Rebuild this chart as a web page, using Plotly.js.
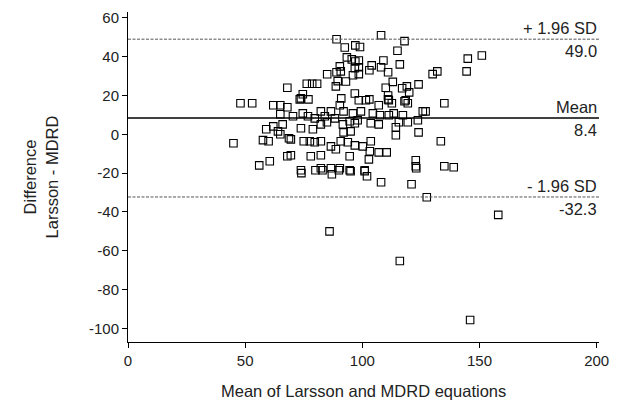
<!DOCTYPE html>
<html><head><meta charset="utf-8">
<script src="https://cdn.plot.ly/plotly-3.0.1.min.js"></script>
<style>html,body{margin:0;padding:0;background:#fff}#chart{width:626px;height:407px}</style>
</head><body><div id="chart"></div>
<script>
// Mean of the two equations (x) and difference (y)
const meanVals = [89,108,118,115,99,109,116,98.5,104,103,108,111,98.5,98.5,113,124,119,110,117,103,111,111,120,118.5,98.5,
151,145,144.5,130,132,135,127,133.5,135,139,127.5,158,
86,116,146,
101,102,108,121,123,74,80,83,87,90,95,
92.5,97,93.4,95.5,97,90.4,90.8,89,85,96.8,96,76.3,78.6,80.7,89.5,93,88.7,68,74.6,73.8,91,96.8,
48,53,62,65,68,65,59,62,66,64,65,68.7,45,57.6,60,60.5,56,68,
73.3,77,90.4,86.6,92,96,82.3,74.6,76.8,70.4,79.7,84,84.9,88.3,94.6,96.8,91.7,82.3,73.8,78.9,92,95,69.5,75,77.6,79.7,82.3,86.6,88.7,90.8,93.8,96.8,94.6,69.5,78,82.3,73.8,82.3,86.6,90.4,94.6,
101.5,107,111.3,112.6,118,119.4,99.4,104.5,107.5,111.3,113.4,117.3,125.8,98,103.6,107,115.6,119.4,123.7,114.3,114.3,124,103.6,100.2,103.2,107,110.4,102.8,122.8,122.8,101];
const diffVals = [49,51,48,43,45,38,36,38,35.5,33,34.5,32,34.5,31,27,25.7,24.7,24,23.7,18,20,18,21.6,17.5,17.5,
40.6,39,32.4,31,32.4,16,11.8,-3.6,-16.5,-17,-32.4,-41.5,
-50,-65.3,-95.7,
-19,-21.6,-24.7,-25.7,-17.5,-20,-18.5,-18.5,-20.6,-18.5,-19,
44.7,45.8,39.6,38.6,37.5,35,32.4,32,30.9,34,30.4,26,26,26,27.4,27.2,24.7,24,20.6,18.5,18.5,21,
16,16,15,15,13.9,10.3,2.6,4.1,5.1,1.5,0,-2,-4.6,-3,-3.6,-13.9,-16,-11.3,
18,18,15,11.8,11.8,10.8,11.8,10.8,9.3,9.3,8.2,9.3,6.2,8.2,6.7,5.7,5.1,5.1,3.1,2.6,1,1.5,-2.6,-3.6,-3.6,-4.1,-3.6,-6.2,-7.7,-3.6,-4.1,-5.7,-11.3,-10.8,-11.3,-10.8,-18.5,-17.5,-17.5,-17.5,-18.5,
17.5,15,17.5,16,17,16,11.8,10.8,9.8,9.8,10.8,9.8,11.8,7.2,5.7,5.1,6.2,6.2,7.2,3.6,-0.5,1,-3.6,-6.2,-8.7,-9.3,-9.3,-12.9,-13.4,-16.5,-18.5];

const meanDiff = 8.4, upperLoA = 49.0, lowerLoA = -32.3;
const yTicks = [60,40,20,0,-20,-40,-60,-80,-100];
const yTickText = ["60","40","20","0","-20","-40","-60","-80","-100"];
const xTicks = [0,50,100,150,200];
const xTitle = 'Mean of Larsson and MDRD equations';

const F = "Liberation Sans, Arial, sans-serif";
const traces = [{
  x: meanVals, y: diffVals, type: 'scatter', mode: 'markers',
  marker: {symbol: 'square-open', size: 7.5, color: '#000', line: {width: 1.1, color: '#000'}},
  hoverinfo: 'x+y'
}];
const shapes = [
  {type:'line', xref:'paper', x0:0, x1:1, yref:'y', y0:meanDiff, y1:meanDiff, line:{color:'#000', width:1.6}},
  {type:'line', xref:'paper', x0:0, x1:1, yref:'y', y0:upperLoA, y1:upperLoA, line:{color:'#555', width:1, dash:'3px,1.5px'}},
  {type:'line', xref:'paper', x0:0, x1:1, yref:'y', y0:lowerLoA, y1:lowerLoA, line:{color:'#555', width:1, dash:'3px,1.5px'}}
];
const ann = (t, y, above) => ({xref:'paper', x:1, xanchor:'right', yref:'y', y:y, yanchor: above ? 'bottom':'top',
  yshift: above ? 0 : -1, text:t, showarrow:false, font:{family:F, size:16.5, color:'#222'}});
const layout = {
  width: 626, height: 407,
  margin: {l:128, r:27, t:12, b:65},
  paper_bgcolor:'#fff', plot_bgcolor:'#fff',
  showlegend:false,
  font:{family:F, size:15, color:'#222'},
  xaxis: {range:[0,201], tickvals:xTicks, showgrid:false, zeroline:false, showline:true, linecolor:'#000', linewidth:1,
    ticks:'outside', ticklen:5, tickcolor:'#000', tickfont:{family:F, size:15, color:'#222'}},
  yaxis: {range:[-107,63], tickvals:yTicks, ticktext:yTickText, showgrid:false, zeroline:false, showline:true, linecolor:'#000', linewidth:1,
    ticks:'outside', ticklen:5, tickcolor:'#000', tickfont:{family:F, size:15, color:'#222'},
    title:{text:'Difference<br>Larsson - MDRD', font:{family:F, size:16.5, color:'#222'}, standoff:26}},
  shapes: shapes,
  annotations: [ann('+ 1.96 SD', upperLoA, true), ann(upperLoA.toFixed(1), upperLoA, false),
    ann('Mean', meanDiff, true), ann(meanDiff.toFixed(1), meanDiff, false),
    ann('- 1.96 SD', lowerLoA, true), ann(lowerLoA.toFixed(1), lowerLoA, false),
    {xref:'paper', x:0.5, yref:'paper', y:-0.148, xanchor:'center', yanchor:'middle', text:xTitle, showarrow:false,
     font:{family:F, size:16.5, color:'#222'}}]
};
Plotly.newPlot('chart', traces, layout, {displayModeBar:false, staticPlot:true});
</script></body></html>
